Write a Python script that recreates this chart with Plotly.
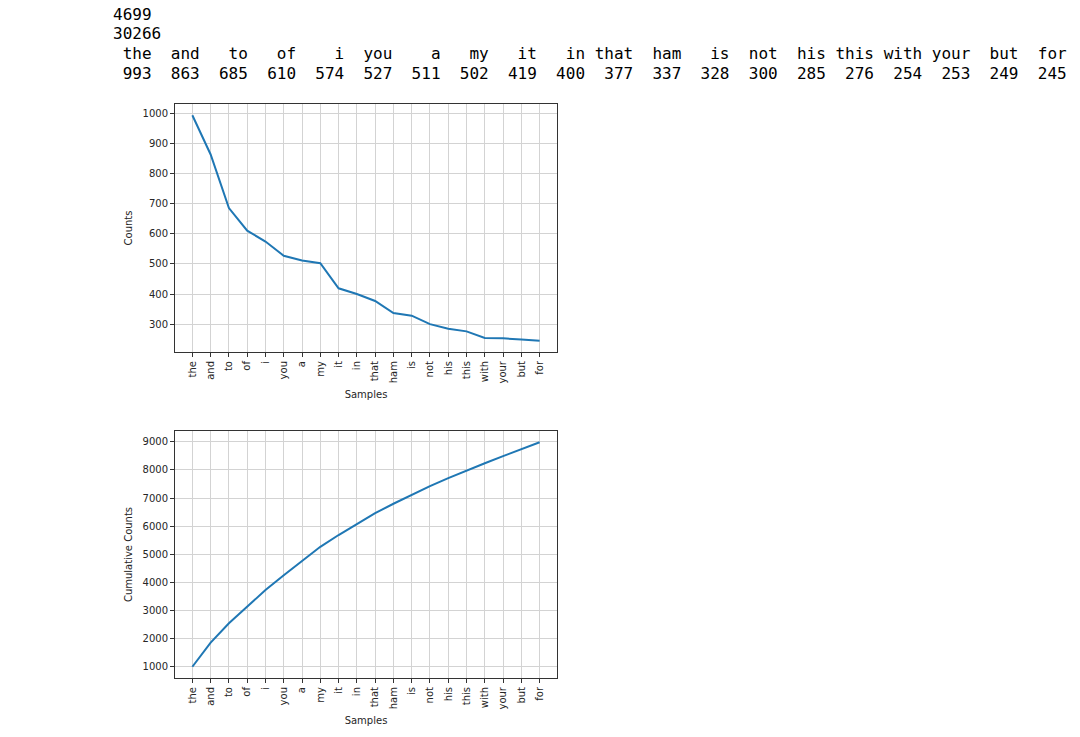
import plotly.graph_objects as go

# top text output
vocab_size = 4699
token_total = 30266

samples = ['the', 'and', 'to', 'of', 'i', 'you', 'a', 'my', 'it', 'in',
           'that', 'ham', 'is', 'not', 'his', 'this', 'with', 'your', 'but', 'for']
counts = [993, 863, 685, 610, 574, 527, 511, 502, 419, 400,
          377, 337, 328, 300, 285, 276, 254, 253, 249, 245]
cumulative_counts = [993, 1856, 2541, 3151, 3725, 4252, 4763, 5265, 5684, 6084,
                     6461, 6798, 7126, 7426, 7711, 7987, 8241, 8494, 8743, 8988]

top_ticks = [300, 400, 500, 600, 700, 800, 900, 1000]
bottom_ticks = [1000, 2000, 3000, 4000, 5000, 6000, 7000, 8000, 9000]

W, H = 1080, 737
line_colour = '#1f77b4'
spine_colour = '#333333'
grid_colour = '#d3d3d3'
tick_font = dict(family='DejaVu Sans', size=10, color='#262626')


def px_x(x):
    return x / W


def px_y(y):
    return 1 - y / H


fig = go.Figure()

fig.add_trace(go.Scatter(x=list(range(len(samples))), y=counts, mode='lines',
                         line=dict(color=line_colour, width=2), xaxis='x', yaxis='y',
                         showlegend=False))
fig.add_trace(go.Scatter(x=list(range(len(samples))), y=cumulative_counts, mode='lines',
                         line=dict(color=line_colour, width=2), xaxis='x2', yaxis='y2',
                         showlegend=False))

# matplotlib-like 5% margins around the data
n = len(samples)
pad_x = 0.05 * (n - 1)


def pad_range(vals):
    span = max(vals) - min(vals)
    return [min(vals) - 0.05 * span, max(vals) + 0.05 * span]


common_x = dict(
    tickmode='array', tickvals=list(range(n)), ticktext=samples, tickangle=-90,
    range=[-pad_x, n - 1 + pad_x], showgrid=True, gridcolor=grid_colour, gridwidth=1,
    showline=True, mirror=True, linecolor=spine_colour, linewidth=1,
    ticks='outside', ticklen=4, tickcolor=spine_colour, tickfont=tick_font,
    zeroline=False,
)
common_y = dict(
    showgrid=True, gridcolor=grid_colour, gridwidth=1,
    showline=True, mirror=True, linecolor=spine_colour, linewidth=1,
    ticks='outside', ticklen=4, tickcolor=spine_colour, tickfont=tick_font,
    zeroline=False,
)

fig.update_layout(
    width=W, height=H,
    margin=dict(l=0, r=0, t=0, b=0),
    paper_bgcolor='white', plot_bgcolor='white',
    xaxis=dict(common_x, domain=[px_x(175), px_x(557)], anchor='y',
               title=dict(text='Samples', font=tick_font, standoff=8)),
    yaxis=dict(common_y, domain=[px_y(352), px_y(104)], anchor='x',
               range=pad_range(counts), tickvals=top_ticks,
               title=dict(text='Counts', font=tick_font, standoff=8)),
    xaxis2=dict(common_x, domain=[px_x(175), px_x(557)], anchor='y2',
                title=dict(text='Samples', font=tick_font, standoff=8)),
    yaxis2=dict(common_y, domain=[px_y(678), px_y(431)], anchor='x2',
                range=pad_range(cumulative_counts), tickvals=bottom_ticks,
                title=dict(text='Cumulative Counts', font=tick_font, standoff=8)),
)

# the printed frequency table above the plots
nb = '\u00a0'
header = nb.join(s.rjust(4) for s in samples).replace(' ', nb)
values = nb.join(str(c).rjust(4) for c in counts).replace(' ', nb)
text_lines = [str(vocab_size), str(token_total), header, values]
line_y = [14, 33, 53, 73]

for txt, y in zip(text_lines, line_y):
    fig.add_annotation(text=txt, xref='paper', yref='paper', x=px_x(111), y=px_y(y),
                       xanchor='left', yanchor='middle', showarrow=False,
                       font=dict(family='DejaVu Sans Mono', size=16, color='black'))

# drop the default body margin so the figure fills the window exactly
fig.write_html('out.html', config={'displayModeBar': False},
               post_script="document.body.style.margin='0';")
